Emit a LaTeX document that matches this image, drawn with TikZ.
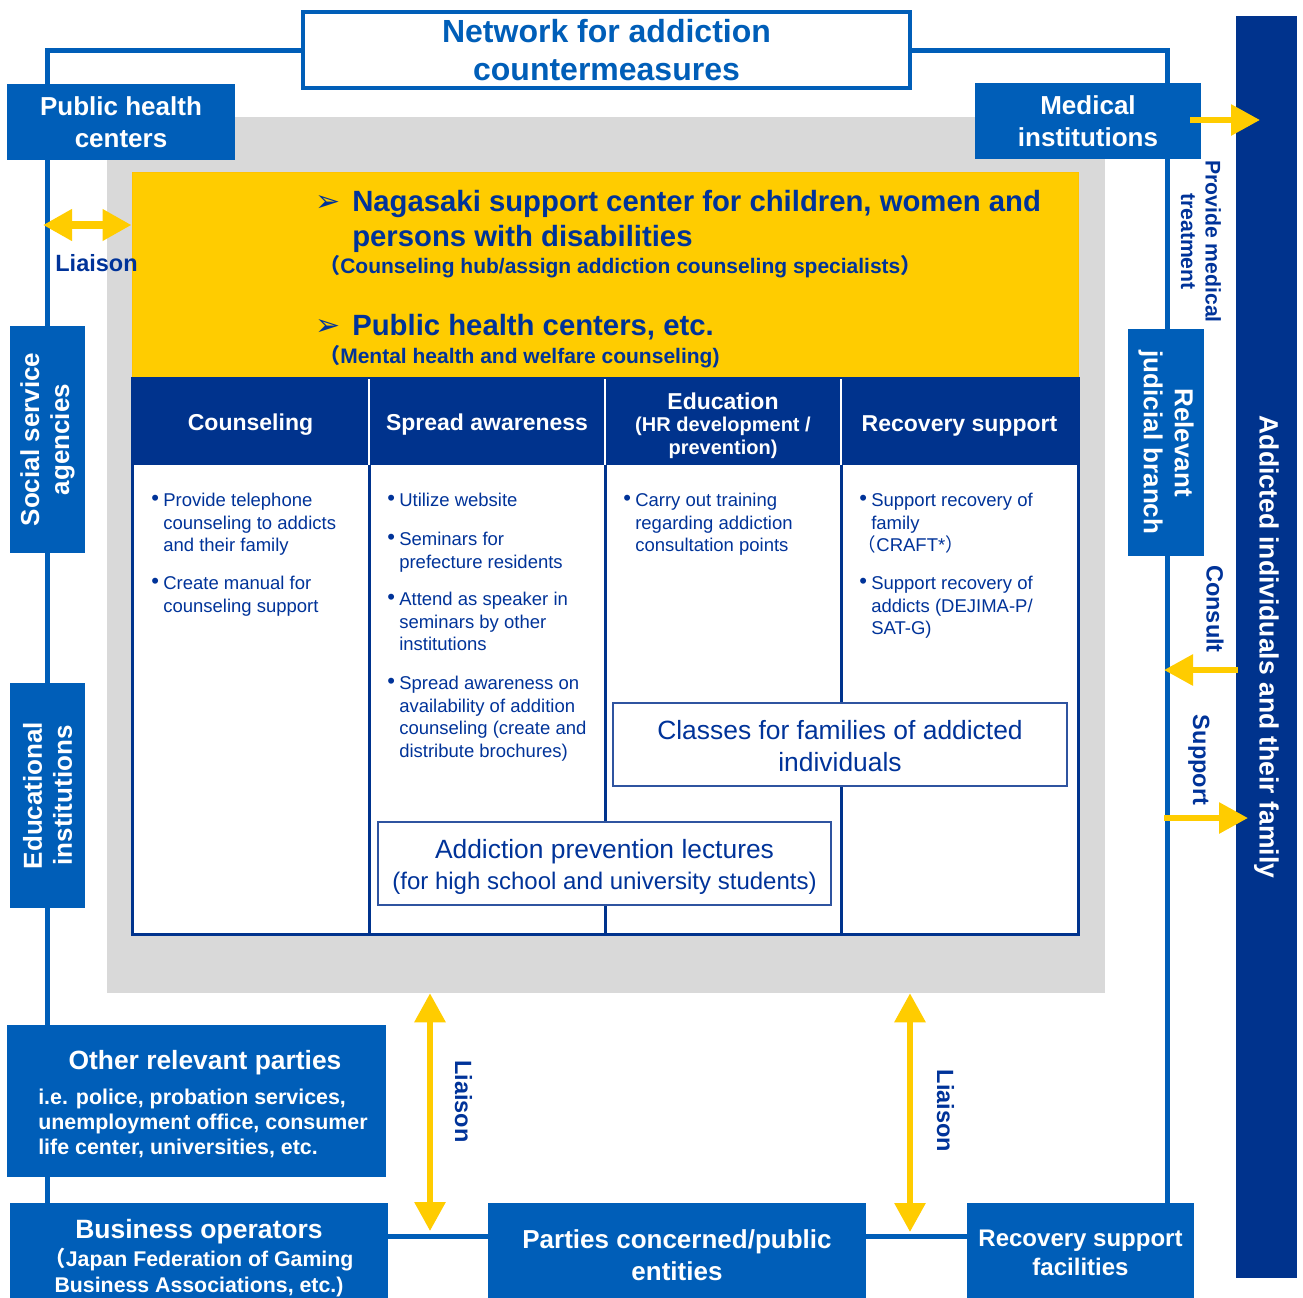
\documentclass[tikz,border=0pt]{standalone}
\usepackage{fontspec}
\setmainfont{Liberation Sans}
\newfontfamily\cjkfont{Noto Sans CJK JP}
\newfontfamily\djvfont{DejaVu Sans}
\usetikzlibrary{arrows.meta}
\pgfdeclarelayer{bg}
\pgfsetlayers{bg,main}
\definecolor{mblue}{RGB}{0,94,184}
\definecolor{navy}{RGB}{0,51,141}
\definecolor{tblue}{RGB}{0,51,153}
\definecolor{yel}{RGB}{255,204,0}
\definecolor{gryc}{RGB}{217,217,217}
\definecolor{bordc}{RGB}{47,84,160}
\newcommand\fpx[2]{\fontsize{\dimexpr #1pt*3/4\relax}{\dimexpr #2pt*3/4\relax}\selectfont}
\newcommand\fwl{{\cjkfont （}}
\newcommand\fwr{{\cjkfont ）}}
\newcommand\bul{\llap{\raisebox{0.6pt}{\fpx{22}{22}•}\hspace{3.2pt}}}
\tikzset{
  sz/.style 2 args={minimum width=#1*0.75pt, minimum height=#2*0.75pt},
  bbox/.style={fill=mblue, text=white, font=\bfseries\fpx{26}{32}, align=center, inner sep=0pt, outer sep=0pt},
  wtxt/.style={text=white, inner sep=0pt, align=center},
  netline/.style={draw=mblue, line width=3.75pt},
  ytip/.tip={Triangle[width=22.5pt,length=21.75pt]},
  yarr/.style={draw=yel, line width=4.5pt, -ytip},
  ydbl/.style={draw=yel, line width=4.5pt, ytip-ytip},
  lbl/.style={text=tblue, font=\bfseries\fpx{23.5}{28}, inner sep=0pt, align=center},
  hdr/.style={text=white, font=\bfseries\fpx{23}{26}, inner sep=0pt, align=center},
  itm/.style={text=tblue, font=\fpx{18.5}{22.5}, anchor=north west, inner sep=0pt, align=left},
  wbox/.style={draw=bordc, line width=1.1pt, fill=white, inner sep=0pt},
  wboxt/.style={text=tblue, font=\fpx{26.4}{32}, align=center, inner sep=0pt},
  ytxt/.style={text=tblue, font=\bfseries\fpx{29.3}{35}, anchor=west, inner sep=0pt, align=left},
  ysub/.style={text=tblue, font=\bfseries\fpx{21}{25}, anchor=west, inner sep=0pt},
  ybul/.style={text=tblue, font=\djvfont\fpx{30}{30}, inner sep=0pt},
  tline/.style={draw=navy, line width=2.25pt},
}
\begin{document}
\begin{tikzpicture}[x=0.75pt,y=-0.75pt]
\useasboundingbox (0,0) rectangle (1303,1297);
\clip (0,0) rectangle (1303,1297);
% grey panel
\node (gbx) [fill=gryc, inner sep=0pt, sz={998}{876}] at (606,555) {};
% yellow block
\node (ybx) [fill=yel, draw=yel!88!orange, line width=0.75pt, inner sep=0pt, sz={946}{206}] at (605,275) {};
\node (yb1) [ybul] at (328,203) {➢};
\node (yt1) [ytxt] at (352,221.5) {Nagasaki support center for children, women and\\persons with disabilities};
\node (ys1) [ysub] at (319,267) {\fwl Counseling hub/assign addiction counseling specialists\fwr};
\node (yb2) [ybul] at (328,327) {➢};
\node (yt2) [ytxt] at (352,327.5) {Public health centers, etc.};
\node (ys2) [ysub] at (319,357) {\fwl Mental health and welfare counseling)};
% table
\draw[tline, fill=white] (132,378) rectangle (1078,934);
\fill[navy] (131,377) rectangle (1079,465);
\foreach \cx in {369,605,841} {
  \draw[tline] (\cx,465) -- (\cx,934);
  \draw[white, line width=1.2pt] (\cx,379) -- (\cx,465);
}
\node (h1) [hdr] at (250.5,425) {Counseling};
\node (h2) [hdr] at (487,425) {Spread awareness};
\node (h3a) [hdr] at (723,401) {Education};
\node (h3b) [hdr, font=\bfseries\fpx{20}{23}] at (723,437.5) {(HR development /\\prevention)};
\node (h4) [hdr] at (959.5,426) {Recovery support};
% items
\node (c1a) [itm] at (163,493) {\bul Provide telephone\\counseling to addicts\\and their family};
\node (c1b) [itm] at (163,576) {\bul Create manual for\\counseling support};
\node (c2a) [itm] at (399,493) {\bul Utilize website};
\node (c2b) [itm] at (399,532) {\bul Seminars for\\prefecture residents};
\node (c2c) [itm] at (399,592) {\bul Attend as speaker in\\seminars by other\\institutions};
\node (c2d) [itm] at (399,676) {\bul Spread awareness on\\availability of addition\\counseling (create and\\distribute brochures)};
\node (c3a) [itm] at (635,493) {\bul Carry out training\\regarding addiction\\consultation points};
\node (c4a) [itm] at (871,493) {\bul Support recovery of\\family\\\hspace*{-10pt}\fwl CRAFT*\fwr};
\node (c4b) [itm] at (871,576) {\bul Support recovery of\\addicts (DEJIMA-P/\\SAT-G)};
% white boxes
\node (cls) [wbox, sz={454}{83}] at (840,744.5) {};
\node (clst) [wboxt] at (840,746.5) {Classes for families of addicted\\individuals};
\node (apl) [wbox, sz={453}{83}] at (604.5,863.5) {};
\node (aplt) [wboxt, font=\fpx{26.4}{31}] at (604.5,866.5) {Addiction prevention lectures\\{\fpx{24}{31}(for high school and university students)}};
% title
\node (ttl) [draw=mblue, line width=3pt, fill=white, sz={607}{76}, text=mblue, font=\bfseries\fpx{32}{38}, align=center, inner sep=0pt] at (606.5,50) {Network for addiction\\countermeasures};
% blue boxes
\node (phc) [bbox, sz={228}{76}] at (121,122) {Public health\\centers};
\node (med) [bbox, sz={226}{76}] at (1088,121) {Medical\\institutions};
\node (ssa) [bbox, rotate=90, sz={227}{75}, font=\bfseries\fpx{26}{30}] at (47.5,439.5) {Social service\\agencies};
\node (edu) [bbox, rotate=90, sz={225}{75}, font=\bfseries\fpx{26}{30}] at (47.5,795.5) {Educational\\institutions};
\node (jud) [bbox, rotate=-90, sz={227}{76}, font=\bfseries\fpx{26}{31}] at (1166,442.5) {Relevant\\judicial branch};
\node (add) [bbox, fill=navy, rotate=-90, sz={1262}{61}, font=\bfseries\fpx{26.5}{30}] at (1266.5,647) {Addicted individuals and their family};
\node (orp) [bbox, sz={379}{152}] at (196.5,1101) {};
\node (orph) [wtxt, font=\bfseries\fpx{26.4}{30}] at (205,1063) {Other relevant parties};
\node (orps) [wtxt, anchor=west, align=left, font=\bfseries\fpx{21.4}{25}] at (38,1123) {i.e. police, probation services,\\unemployment office, consumer\\life center, universities, etc.};
\node (bop) [bbox, sz={378}{104}] at (199,1255) {};
\node (boph) [wtxt, font=\bfseries\fpx{26.5}{30}] at (199,1232) {Business operators};
\node (bops) [wtxt, font=\bfseries\fpx{21.3}{26}] at (199,1272) {\fwl Japan Federation of Gaming\\Business Associations, etc.)};
\node (pce) [bbox, sz={378}{104}] at (677,1255) {Parties concerned/public\\entities};
\node (rsf) [bbox, sz={227}{100}, font=\bfseries\fpx{24}{29}] at (1080.5,1253) {Recovery support\\facilities};
% network bus
\begin{pgfonlayer}{bg}
\fill[white] (0,0) rectangle (1303,1297);
\coordinate (nwL) at (47,50);
\coordinate (nwR) at (1167,50);
\coordinate (bl) at (0,1236);
\draw[netline] (bop.north -| nwL) -- (nwL) -- (nwR) -- (rsf.north -| nwR);
\draw[netline] (bop.east |- bl) -- (pce.west |- bl);
\draw[netline] (pce.east |- bl) -- (rsf.west |- bl);
\end{pgfonlayer}
% arrows
\coordinate (lia1s) at (43,225);
\draw[ydbl, line width=6pt] (lia1s) -- (ybx.west |- lia1s);
\node (lia1) [lbl] at (96.5,263) {Liaison};
\coordinate (medout) at (1190,120);
\coordinate (addin) at (1260,120);
\draw[yarr] (medout) -- (addin);
\node (pmt) [lbl, rotate=-90, font=\bfseries\fpx{21.2}{24.5}] at (1201,241.5) {Provide medical\\treatment};
\coordinate (csout) at (1238,670);
\coordinate (csin) at (1164,670);
\draw[yarr] (csout) -- (csin);
\node (cns) [lbl, rotate=-90] at (1215,609) {Consult};
\coordinate (spout) at (1164,818);
\coordinate (spin) at (1248,818);
\draw[yarr] (spout) -- (spin);
\node (spt) [lbl, rotate=-90] at (1199,760) {Support};
\coordinate (l2b) at (430,1231);
\coordinate (l3b) at (910,1232);
\draw[ydbl] (gbx.south -| l2b) -- (l2b);
\draw[ydbl] (gbx.south -| l3b) -- (l3b);
\node (lia2) [lbl, rotate=-90] at (463.5,1101.5) {Liaison};
\node (lia3) [lbl, rotate=-90] at (945.5,1111) {Liaison};
\end{tikzpicture}
\end{document}
